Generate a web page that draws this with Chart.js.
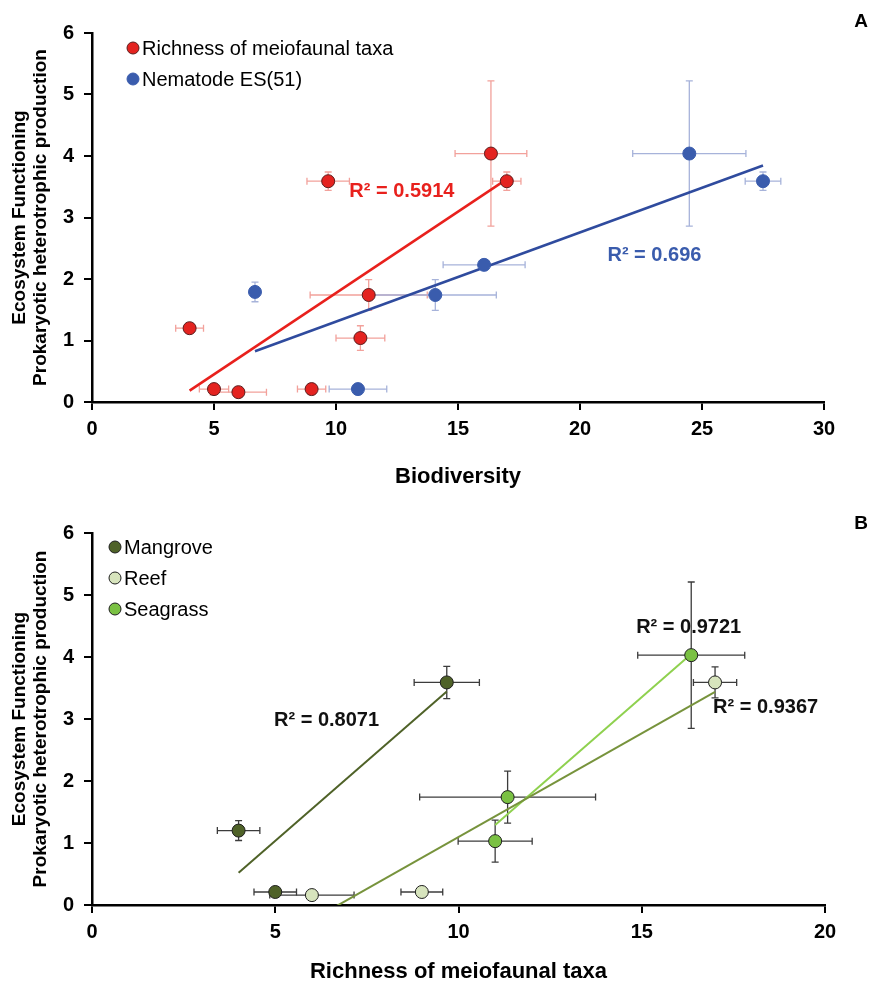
<!DOCTYPE html>
<html lang="en">
<head>
<meta charset="UTF-8">
<title>Ecosystem functioning vs biodiversity</title>
<style>
  body { margin: 0; background: #fff; font-family: 'Liberation Sans', Arial, sans-serif; }
  .panel { position: relative; width: 880px; height: 494px; }
  .tag { position: absolute; right: 12px; font-weight: bold; font-size: 19px; line-height: 19px; color: #000; }
</style>
</head>
<body>

<div class="panel">
  <canvas id="chartA" width="880" height="494"></canvas>
  <div class="tag" style="top: 11px;">A</div>
</div>
<div class="panel">
  <canvas id="chartB" width="880" height="494"></canvas>
  <div class="tag" style="top: 19px;">B</div>
</div>

<script src="https://cdn.jsdelivr.net/npm/chart.js"></script>
<script>
  // Panel A - all samples, two biodiversity measures
  const richX    = [4, 5, 6, 9, 9.68, 11, 11.34, 16.35, 17];
  const richY    = [1.2, 0.21, 0.16, 0.21, 3.59, 1.04, 1.74, 4.04, 3.59];
  const richXErr = [0.57, 0.6, 1.15, 0.58, 0.87, 1.0, 2.4, 1.47, 0.58];
  const richYErr = [0, 0, 0, 0, 0.15, 0.2, 0.25, 1.18, 0.15];

  const esX    = [6.68, 10.9, 14.07, 16.07, 24.48, 27.5];
  const esY    = [1.79, 0.21, 1.74, 2.23, 4.04, 3.59];
  const esXErr = [0, 1.18, 2.5, 1.68, 2.32, 0.73];
  const esYErr = [0.16, 0, 0.25, 0.04, 1.18, 0.15];

  // Panel B - richness split by habitat
  const mangroveX    = [4, 5, 9.68];
  const mangroveY    = [1.2, 0.21, 3.59];
  const mangroveXErr = [0.58, 0.58, 0.89];
  const mangroveYErr = [0.16, 0, 0.26];

  const reefX    = [6, 9, 17];
  const reefY    = [0.16, 0.21, 3.59];
  const reefXErr = [1.15, 0.57, 0.59];
  const reefYErr = [0, 0, 0.25];

  const seagrassX    = [11, 11.34, 16.35];
  const seagrassY    = [1.03, 1.74, 4.03];
  const seagrassXErr = [1.01, 2.4, 1.46];
  const seagrassYErr = [0.34, 0.42, 1.18];

  const yTicks = [0, 1, 2, 3, 4, 5, 6];
  const yTitle = ['Ecosystem Functioning', 'Prokaryotic heterotrophic production'];

  const FONT = "'Liberation Sans', Arial, sans-serif";

  function points(xs, ys, xe, ye) {
    return xs.map((x, i) => ({ x: x, y: ys[i], xErr: xe[i], yErr: ye[i] }));
  }

  // least squares line over the series, drawn from min x to max x
  function trend(xs, ys) {
    const n = xs.length;
    const mx = xs.reduce((a, b) => a + b, 0) / n;
    const my = ys.reduce((a, b) => a + b, 0) / n;
    let sxy = 0, sxx = 0;
    for (let i = 0; i < n; i++) {
      sxy += (xs[i] - mx) * (ys[i] - my);
      sxx += (xs[i] - mx) * (xs[i] - mx);
    }
    const slope = sxy / sxx, icpt = my - slope * mx;
    const x0 = Math.min(...xs), x1 = Math.max(...xs);
    return [{ x: x0, y: icpt + slope * x0 }, { x: x1, y: icpt + slope * x1 }];
  }

  function markerSet(label, xs, ys, xe, ye, fill, border, errColor) {
    return {
      label: label, legend: true, order: 0,
      data: points(xs, ys, xe, ye),
      pointRadius: 6.5, pointHoverRadius: 6.5,
      backgroundColor: fill, borderColor: border, borderWidth: 1,
      pointBackgroundColor: fill, pointBorderColor: border, pointBorderWidth: 1,
      errColor: errColor
    };
  }

  function trendSet(xs, ys, color, width) {
    return {
      label: '', order: 1, showLine: true,
      data: trend(xs, ys),
      borderColor: color, borderWidth: width, pointRadius: 0, pointHoverRadius: 0
    };
  }

  const errorBars = {
    id: 'errorBars',
    beforeDatasetsDraw(chart) {
      const { ctx, scales: { x, y } } = chart;
      const cap = 3.5;
      ctx.save();
      chart.data.datasets.forEach(ds => {
        if (!ds.errColor) return;
        ctx.strokeStyle = ds.errColor;
        ctx.lineWidth = 1.3;
        ds.data.forEach(p => {
          const px = x.getPixelForValue(p.x), py = y.getPixelForValue(p.y);
          ctx.beginPath();
          if (p.xErr) {
            const l = x.getPixelForValue(p.x - p.xErr), r = x.getPixelForValue(p.x + p.xErr);
            ctx.moveTo(l, py); ctx.lineTo(r, py);
            ctx.moveTo(l, py - cap); ctx.lineTo(l, py + cap);
            ctx.moveTo(r, py - cap); ctx.lineTo(r, py + cap);
          }
          if (p.yErr) {
            const t = y.getPixelForValue(p.y + p.yErr), b = y.getPixelForValue(p.y - p.yErr);
            ctx.moveTo(px, t); ctx.lineTo(px, b);
            ctx.moveTo(px - cap, t); ctx.lineTo(px + cap, t);
            ctx.moveTo(px - cap, b); ctx.lineTo(px + cap, b);
          }
          ctx.stroke();
        });
      });
      ctx.restore();
    }
  };

  // R² texts placed at data coordinates
  const r2Labels = {
    id: 'r2Labels',
    afterDatasetsDraw(chart, args, opts) {
      const { ctx, scales: { x, y } } = chart;
      ctx.save();
      ctx.font = 'bold 20px ' + FONT;
      ctx.textAlign = 'center';
      ctx.textBaseline = 'middle';
      (opts.items || []).forEach(it => {
        ctx.fillStyle = it.color;
        ctx.fillText(it.text, x.getPixelForValue(it.x), y.getPixelForValue(it.y));
      });
      ctx.restore();
    }
  };

  // legend inside the plot, dot + label per marker series
  const dotLegend = {
    id: 'dotLegend',
    afterDraw(chart, args, opts) {
      const ctx = chart.ctx;
      let row = 0;
      ctx.save();
      ctx.font = '20px ' + FONT;
      ctx.textBaseline = 'middle';
      chart.data.datasets.forEach(ds => {
        if (!ds.legend) return;
        const cy = opts.top + row * opts.step;
        ctx.beginPath();
        ctx.arc(opts.left, cy, 6, 0, Math.PI * 2);
        ctx.fillStyle = ds.pointBackgroundColor;
        ctx.fill();
        ctx.lineWidth = 1;
        ctx.strokeStyle = ds.pointBorderColor;
        ctx.stroke();
        ctx.fillStyle = '#000';
        ctx.fillText(ds.label, opts.left + 9, cy + 1);
        row++;
      });
      ctx.restore();
    }
  };

  function buildChart(id, o) {
    return new Chart(document.getElementById(id), {
      type: 'scatter',
      data: { datasets: o.datasets },
      options: {
        responsive: false,
        animation: false,
        events: [],
        layout: { padding: o.padding },
        plugins: {
          legend: { display: false },
          tooltip: { enabled: false },
          r2Labels: { items: o.r2 },
          dotLegend: o.legend
        },
        scales: {
          x: {
            type: 'linear', min: 0, max: o.xMax,
            ticks: { stepSize: 5, color: '#000', padding: 7, font: { family: FONT, size: 20, weight: 'bold' } },
            grid: { drawOnChartArea: false, color: '#000', lineWidth: 2, tickLength: 8 },
            border: { color: '#000', width: 2.5 },
            title: { display: true, text: o.xTitle, color: '#000', padding: { top: 0, bottom: o.xTitlePad },
                     font: { family: FONT, size: 22, weight: 'bold', lineHeight: 1.2 } },
            afterFit(s) { s.height = o.xAxisH; }
          },
          y: {
            type: 'linear', min: yTicks[0], max: yTicks[yTicks.length - 1],
            afterBuildTicks(s) { s.ticks = yTicks.map(v => ({ value: v })); },
            ticks: { color: '#000', padding: 10, font: { family: FONT, size: 20, weight: 'bold' } },
            grid: { drawOnChartArea: false, color: '#000', lineWidth: 2, tickLength: 8 },
            border: { color: '#000', width: 2.5 },
            title: { display: true, text: yTitle, color: '#000', padding: { top: 9, bottom: 0 },
                     font: { family: FONT, size: 19, weight: 'bold', lineHeight: 1.1 } },
            afterFit(s) { s.width = 92; }
          }
        }
      },
      plugins: [errorBars, r2Labels, dotLegend]
    });
  }

  buildChart('chartA', {
    xMax: 30, xTitle: 'Biodiversity', xAxisH: 92, xTitlePad: 4,
    padding: { top: 33, right: 56, bottom: 0, left: 0 },
    legend: { left: 133, top: 48, step: 31 },
    r2: [
      { text: 'R² = 0.5914', x: 12.7, y: 3.42, color: '#e8211d' },
      { text: 'R² = 0.696', x: 23.05, y: 2.39, color: '#3a5cad' }
    ],
    datasets: [
      markerSet('Richness of meiofaunal taxa', richX, richY, richXErr, richYErr, '#e42320', '#5a1d1d', '#f2a19b'),
      markerSet('Nematode ES(51)', esX, esY, esXErr, esYErr, '#3a5cad', '#3a5cad', '#a7b3da'),
      trendSet(richX, richY, '#e8211d', 2.5),
      trendSet(esX, esY, '#2f4b9e', 2.5)
    ]
  });

  buildChart('chartB', {
    xMax: 20, xTitle: 'Richness of meiofaunal taxa', xAxisH: 83, xTitlePad: 3,
    padding: { top: 39, right: 55, bottom: 0, left: 0 },
    legend: { left: 115, top: 53, step: 31 },
    r2: [
      { text: 'R² = 0.8071', x: 6.4, y: 2.98, color: '#111' },
      { text: 'R² = 0.9721', x: 16.28, y: 4.47, color: '#111' },
      { text: 'R² = 0.9367', x: 18.38, y: 3.18, color: '#111' }
    ],
    datasets: [
      markerSet('Mangrove', mangroveX, mangroveY, mangroveXErr, mangroveYErr, '#4f6228', '#1e1e1e', '#3c3c3c'),
      markerSet('Reef', reefX, reefY, reefXErr, reefYErr, '#d7e4bd', '#1e1e1e', '#3c3c3c'),
      markerSet('Seagrass', seagrassX, seagrassY, seagrassXErr, seagrassYErr, '#7ac143', '#1e1e1e', '#3c3c3c'),
      trendSet(mangroveX, mangroveY, '#4f6228', 2),
      trendSet(reefX, reefY, '#77933c', 2),
      trendSet(seagrassX, seagrassY, '#8fd14f', 2)
    ]
  });
</script>
</body>
</html>
